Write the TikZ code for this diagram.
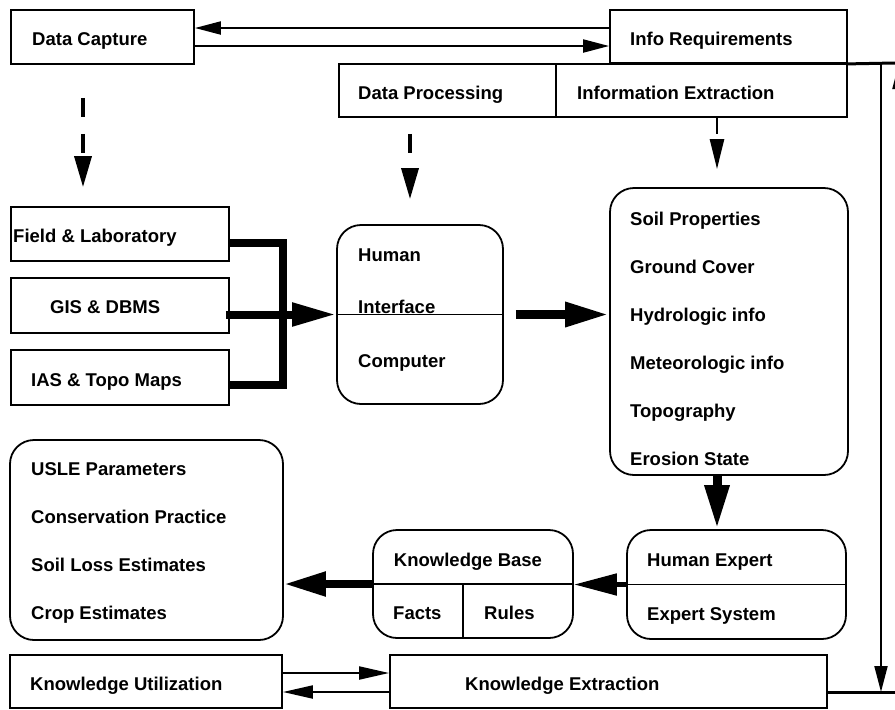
\documentclass[tikz,border=0pt]{standalone}
\usepackage{fontspec}
\setmainfont{Liberation Sans}
\usetikzlibrary{arrows.meta}
\begin{document}
\begin{tikzpicture}[x=1pt,y=-1pt,
  box/.style={draw, line width=1.8pt, rectangle, inner sep=0pt},
  rbox/.style={box, rounded corners=24pt},
  lbl/.style={anchor=base west, inner sep=0pt, font=\fontsize{18.5}{20}\selectfont\bfseries},
  lblc/.style={lbl, anchor=base},
  divider/.style={line width=1.8pt},
  thinarrow/.style={line width=2pt, -{Triangle[length=26pt,width=13pt]}},
  flowarrow/.style={line width=2pt, -{Triangle[length=30pt,width=13pt]}},
  dasharrow/.style={line width=3.5pt, dash pattern=on 19pt off 17pt, -{Triangle[length=31pt,width=17pt]}},
  fatarrow/.style={line width=9pt, -{Triangle[length=44pt,width=23pt]}},
  bus/.style={line width=8pt, line join=miter},
  wire/.style={line width=3pt}
]
\useasboundingbox (0,0) rectangle (895,710);
\clip (0,0) rectangle (895,710);

% ---- top row ----
\node[box, minimum width=183pt, minimum height=54pt] (dc) at (102.5,37) {};
\node[lbl] (tdc) at (32,45) {Data Capture};
\node[box, minimum width=237pt, minimum height=53pt] (ir) at (728.5,36.5) {};
\node[lbl] (tir) at (630,45) {Info Requirements};
\node[box, minimum width=217pt, minimum height=53pt] (dp) at (447.5,90.5) {};
\node[lbl] (tdp) at (358,99) {Data Processing};
\node[box, minimum width=291pt, minimum height=53pt] (ie) at (701.5,90.5) {};
\node[lbl] (tie) at (577,99) {Information Extraction};

% ---- data sources ----
\node[box, minimum width=218pt, minimum height=54pt] (fl) at (120,234) {};
\node[lbl] (tfl) at (13,242) {Field \& Laboratory};
\node[box, minimum width=218pt, minimum height=55pt] (gis) at (120,305.5) {};
\node[lbl] (tgis) at (50,313) {GIS \& DBMS};
\node[box, minimum width=218pt, minimum height=55pt] (ias) at (120,377.5) {};
\node[lbl] (tias) at (31,386) {IAS \& Topo Maps};

% ---- human/computer interface ----
\node[rbox, minimum width=166pt, minimum height=179pt] (hi) at (420,314.5) {};
\draw[divider] (hi.west) -- (hi.east);
\node[lbl] (thi1) at (358,261) {Human};
\node[lbl] (thi2) at (358,313) {Interface};
\node[lbl] (thi3) at (358,367) {Computer};

% ---- extracted information ----
\node[rbox, minimum width=238pt, minimum height=287pt] (soil) at (729,331.5) {};
\node[lbl] (ts1) at (630,225) {Soil Properties};
\node[lbl] (ts2) at (630,273) {Ground Cover};
\node[lbl] (ts3) at (630,321) {Hydrologic info};
\node[lbl] (ts4) at (630,369) {Meteorologic info};
\node[lbl] (ts5) at (630,417) {Topography};
\node[lbl] (ts6) at (630,465) {Erosion State};

% ---- expert ----
\node[rbox, minimum width=219pt, minimum height=109pt] (he) at (736.5,584.5) {};
\draw[divider] (he.west) -- (he.east);
\node[lbl] (the1) at (647,566) {Human Expert};
\node[lbl] (the2) at (647,620) {Expert System};

% ---- knowledge base ----
\node[rbox, minimum width=200pt, minimum height=108pt] (kb) at (473,584) {};
\draw[divider] (kb.west) -- (kb.east);
\draw[divider] (463,584) -- (463,638);
\node[lblc] (tkb) at (468,566) {Knowledge Base};
\node[lbl] (tkb1) at (393,619) {Facts};
\node[lbl] (tkb2) at (484,619) {Rules};

% ---- results ----
\node[rbox, minimum width=273pt, minimum height=200pt] (usle) at (146.5,540) {};
\node[lbl] (tu1) at (31,475) {USLE Parameters};
\node[lbl] (tu2) at (31,523) {Conservation Practice};
\node[lbl] (tu3) at (31,571) {Soil Loss Estimates};
\node[lbl] (tu4) at (31,619) {Crop Estimates};

% ---- bottom row ----
\node[box, minimum width=272pt, minimum height=53pt] (ku) at (146,681.5) {};
\node[lbl] (tku) at (30,690) {Knowledge Utilization};
\node[box, minimum width=437pt, minimum height=53pt] (ke) at (608.5,681.5) {};
\node[lbl] (tke) at (465,690) {Knowledge Extraction};

% ---- connectors: top row ----
\coordinate (a1) at ([yshift=8.5pt]ir.west);
\draw[thinarrow] (a1) -- (a1 -| dc.east);
\coordinate (a2) at ([yshift=-9pt]dc.east);
\draw[thinarrow] (a2) -- (a2 -| ir.west);

% dashed arrows downwards
\coordinate (d1) at ([xshift=-19.5pt]dc.south);
\draw[dasharrow, shorten <=33pt, shorten >=19pt] (d1) -- (d1 |- fl.north);
\coordinate (d2) at ([xshift=-37.5pt]dp.south);
\draw[dasharrow, dash pattern=on 19pt off 18pt, shorten <=16pt, shorten >=25pt] (d2) -- (d2 |- hi.north);
\coordinate (d3) at ([xshift=15.5pt]ie.south);
\draw[line width=2.5pt, dash pattern=on 16pt off 7pt, -{Triangle[length=30pt,width=14pt]}, shorten >=18pt] (d3) -- (d3 |- soil.north);

% data sources into the interface
\coordinate (b1) at ([yshift=-9pt]fl.east);
\coordinate (b2) at ([yshift=-7.5pt]ias.east);
\draw[bus] (b1) -- ++(53,0) |- (b2);
\coordinate (g1) at ([xshift=-4pt,yshift=-9pt]gis.east);
\draw[line width=8pt, -{Triangle[length=44pt,width=22pt]}] (g1) -- (g1 -| hi.west);

% interface to information
\coordinate (h1) at ([xshift=12pt]hi.east);
\draw[fatarrow] (h1) -- (h1 -| soil.west);

% information to expert
\coordinate (s1) at ([xshift=-12pt]soil.south);
\draw[fatarrow] (s1) -- (s1 |- he.north);

% expert to knowledge base
\draw[line width=5pt, -{Triangle[length=43pt,width=21pt]}] (he.west) -- (he.west -| kb.east);

% knowledge base to results
\draw[line width=8pt, -{Triangle[length=42pt,width=23pt]}] (kb.west) -- (kb.west -| usle.east);

% bottom row
\coordinate (k1) at ([yshift=8.5pt]ku.east);
\draw[flowarrow] (k1) -- (k1 -| ke.west);
\coordinate (k2) at ([yshift=-10.5pt]ke.west);
\draw[flowarrow] (k2) -- (k2 -| ku.east);

% feedback on the right
\coordinate (rtop) at (895,63);
\draw[wire] (ir.south east) -- (rtop);
\coordinate (kx) at ([yshift=-10.5pt]ke.east);
\coordinate (rbot) at (895,692);
\draw[wire] (kx) -- (kx -| rbot);
\coordinate (vtop) at (881,63);
\draw[thinarrow] (vtop) -- (vtop |- kx);
\coordinate (offA) at (899,400);
\coordinate (offB) at (899,63);
\draw[thinarrow] (offA) -- (offB);
\end{tikzpicture}
\end{document}
